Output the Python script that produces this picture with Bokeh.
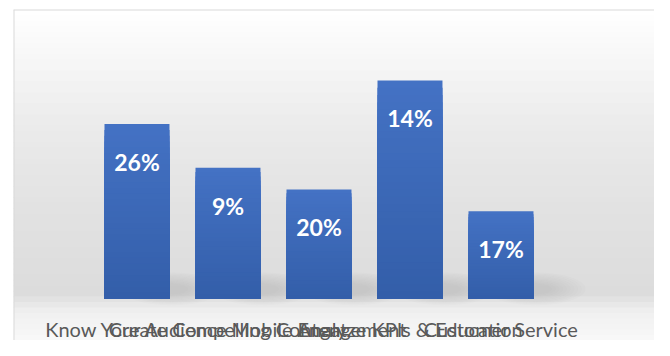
from bokeh.plotting import figure
from bokeh.models import ColumnDataSource, Range1d, BoxAnnotation, Span
from bokeh.core.properties import value
from bokeh.embed import file_html
from bokeh.resources import INLINE

# ---- data ----
categories = ["Know Your Audience", "Create Compelling Content", "Mobile Engagement",
              "Analyze KPIs & Education", "Customer Service"]
values = [0.40, 0.30, 0.25, 0.50, 0.20]
bar_labels = ["26%", "9%", "20%", "14%", "17%"]

xs = list(range(len(categories)))

# ---- figure ----
p = figure(width=654, height=340, output_backend="svg", toolbar_location=None,
           x_range=Range1d(-1.357, 5.687), y_range=Range1d(-0.0963, 0.6628),
           x_axis_type=None, y_axis_type=None,
           min_border_left=13, min_border_top=9, min_border_right=0, min_border_bottom=0)
p.grid.visible = False
p.background_fill_color = "#ffffff"
p.border_fill_color = "#ffffff"
p.outline_line_color = None


def hex2rgb(h):
    h = h.lstrip("#")
    return tuple(int(h[i:i + 2], 16) for i in (0, 2, 4))


def lerp(c1, c2, t):
    a, b = hex2rgb(c1), hex2rgb(c2)
    return "#%02x%02x%02x" % tuple(round(a[i] + (b[i] - a[i]) * t) for i in range(3))


# background gradient (style only)
y0, y1 = p.y_range.start, p.y_range.end
stops = [(0.0, "#ffffff"), (0.15, "#f7f7f7"), (0.35, "#ebebeb"), (0.6, "#e2e2e2"),
         (0.86, "#dcdcdc"), (0.91, "#efefef"), (1.0, "#f9f9f9")]
nb = 60
for i in range(nb):
    f0, f1 = i / nb, (i + 1) / nb
    fm = (f0 + f1) / 2
    for (sa, ca), (sb, cb) in zip(stops[:-1], stops[1:]):
        if sa <= fm <= sb:
            col = lerp(ca, cb, (fm - sa) / (sb - sa))
            break
    top = y1 - (y1 - y0) * f0
    bot = y1 - (y1 - y0) * f1
    p.add_layout(BoxAnnotation(top=top, bottom=bot - 0.002, fill_color=col, fill_alpha=1,
                               line_color=None, level="underlay"))

# chart border (left and top edges)
p.add_layout(Span(location=p.x_range.start, dimension="height", line_color="#d9d9d9", line_width=2))
p.add_layout(Span(location=p.y_range.end, dimension="width", line_color="#d9d9d9", line_width=2))

# soft floor shadows behind bars
nl = 10
for j in range(nl):
    k = 1.0 - j * 0.075
    p.ellipse(x=[x + 0.38 for x in xs], y=[0.022] * len(xs), width=1.1 * k, height=0.075 * k,
              fill_color="#808080", fill_alpha=0.028, line_color=None)

# bars with vertical gradient (nested bars derived from each value, tallest first)
ns = 30
sx, st, sc = [], [], []
for k in range(ns - 1, -1, -1):
    for x, v in zip(xs, values):
        sx.append(x)
        st.append(v * (k + 1) / ns)
        sc.append(lerp("#335ea9", "#4472c4", (k + 0.5) / ns))
src = ColumnDataSource(dict(x=sx, top=st, color=sc))
p.vbar(x="x", bottom=0, top="top", width=0.714, source=src,
       fill_color="color", line_color=None)

# data labels
lab = ColumnDataSource(dict(x=xs, y=values, text=bar_labels))
p.text(x="x", y="y", text="text", source=lab, y_offset=38,
       text_align="center", text_baseline="alphabetic",
       text_font=value("Lato"), text_font_style="bold", text_font_size="23px",
       text_color="#ffffff")

# category labels
cat = ColumnDataSource(dict(x=xs, y=[-0.0688] * len(xs), text=categories))
p.text(x="x", y="y", text="text", source=cat,
       text_align="center", text_baseline="alphabetic",
       text_font=value("Lato"), text_font_size="20px", text_color="#595959")

open("out.html", "w").write(file_html(p, INLINE))
